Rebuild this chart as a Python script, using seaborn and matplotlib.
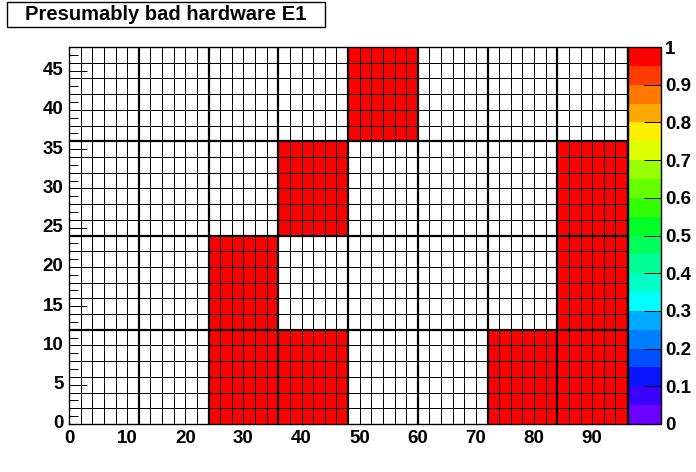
import numpy as np
import pandas as pd
import matplotlib
matplotlib.use("Agg")
import matplotlib.pyplot as plt
from matplotlib.colors import ListedColormap
from matplotlib.patches import Rectangle
import seaborn as sns

# module map, rows from bottom (y 0-12) to top (y 36-48), 8 modules along x
modules_y0 = [0, 0, 1, 1, 0, 0, 1, 1]
modules_y12 = [0, 0, 1, 0, 0, 0, 0, 1]
modules_y24 = [0, 0, 0, 1, 0, 0, 0, 1]
modules_y36 = [0, 0, 0, 0, 1, 0, 0, 0]
bins_per_module = 6   # 2x2 unit bins, 12x12 unit modules

x_ticks = [0, 10, 20, 30, 40, 50, 60, 70, 80, 90]
y_ticks = [0, 5, 10, 15, 20, 25, 30, 35, 40, 45]
z_ticks = [0, 0.1, 0.2, 0.3, 0.4, 0.5, 0.6, 0.7, 0.8, 0.9, 1]

palette = ['#6a00ff', '#3a00ff', '#0a14ff', '#0050ff', '#0080ff',
           '#00aaff', '#00ffff', '#00ffc8', '#00ff96', '#00ff5a',
           '#00ff28', '#33ff00', '#66ff00', '#99ff00', '#ddff00',
           '#ffee00', '#ffa800', '#ff7800', '#ff3c00', '#ff0000']

modules = np.array([modules_y0, modules_y12, modules_y24, modules_y36])
bins = np.kron(modules, np.ones((bins_per_module, bins_per_module)))
df = pd.DataFrame(bins)

plt.rcParams['font.family'] = ['Liberation Sans', 'DejaVu Sans']
plt.rcParams['font.weight'] = 'bold'

fig = plt.figure(figsize=(6.96, 4.72), dpi=100)
W, H = 696, 472
ax = fig.add_axes([69 / W, 1 - 424 / H, (627 - 69) / W, (424 - 47) / H])
cax = fig.add_axes([628 / W, 1 - 424 / H, (661 - 628) / W, (424 - 47) / H])

cmap = ListedColormap(palette)
cmap.set_bad('white')
sns.heatmap(df, ax=ax, cmap=cmap, vmin=0, vmax=1, mask=(df == 0),
            linewidths=0.72, linecolor='black', cbar_ax=cax,
            cbar_kws={'ticks': z_ticks})
ax.collections[0].set_antialiased(False)

nx, ny = bins.shape[1], bins.shape[0]
ax.set_xlim(0, nx)
ax.set_ylim(0, ny)

# thick module boundaries
for i in range(1, modules.shape[1]):
    ax.axvline(i * bins_per_module, color='black', lw=1.6)
for j in range(1, modules.shape[0]):
    ax.axhline(j * bins_per_module, color='black', lw=1.6)

for s in ax.spines.values():
    s.set_visible(True)
    s.set_linewidth(1)
    s.set_color('black')

ax.set_xticks([t / 2 for t in x_ticks])
ax.set_xticklabels([str(t) for t in x_ticks], rotation=0)
ax.set_yticks([t / 2 for t in y_ticks])
ax.set_yticklabels([str(t) for t in y_ticks], rotation=0)
ax.set_xticks(np.arange(0, nx + 1), minor=True)
ax.set_yticks(np.arange(0, ny + 0.5, 0.5), minor=True)
ax.tick_params(axis='x', which='major', direction='in', length=8, width=0.7,
               labelsize=13.5, pad=4, bottom=True)
ax.tick_params(axis='x', which='minor', direction='in', length=4, width=0.7, bottom=True)
ax.tick_params(axis='y', which='major', direction='in', length=13, width=0.7,
               labelsize=13.5, pad=4, left=True)
ax.tick_params(axis='y', which='minor', direction='in', length=6.5, width=0.7, left=True)
ax.set_xlabel('')
ax.set_ylabel('')

cbar = ax.collections[0].colorbar
cbar.outline.set_linewidth(1)
cbar.outline.set_edgecolor('black')
cbar.set_ticks(z_ticks)
cbar.set_ticklabels(['%g' % t for t in z_ticks])
cax.tick_params(direction='in', length=12, width=0.7, labelsize=13.5, pad=3)

# title box
fig.patches.append(Rectangle((7 / W, 1 - 27 / H), (325 - 7) / W, 25 / H,
                             transform=fig.transFigure, facecolor='white',
                             edgecolor='black', lw=1))
fig.text((7 + 325) / 2 / W, 1 - 15 / H, 'Presumably bad hardware E1',
         ha='center', va='center', fontsize=14.5, fontweight='bold')

fig.savefig('out.png', dpi=100)
